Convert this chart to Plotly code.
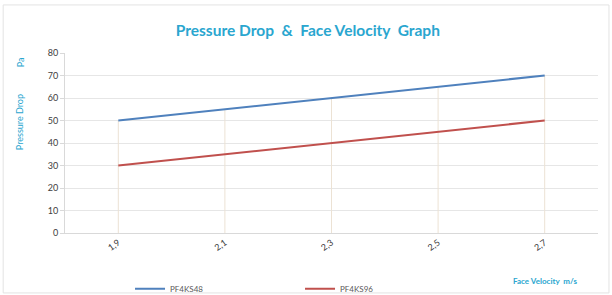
import plotly.graph_objects as go

categories = ["1,9", "2,1", "2,3", "2,5", "2,7"]
pf4ks48 = [50, 55, 60, 65, 70]
pf4ks96 = [30, 35, 40, 45, 50]
y_ticks = [0, 10, 20, 30, 40, 50, 60, 70, 80]

FONT = "Lato, 'Liberation Sans', sans-serif"
CYAN = "#2aa6cf"

fig = go.Figure()
fig.add_trace(go.Scatter(
    x=categories, y=pf4ks48, mode="lines", name="PF4KS48",
    line=dict(color="#4f81bd", width=2),
    error_y=dict(type="data", symmetric=False, array=[0]*len(pf4ks48),
                 arrayminus=pf4ks48, color="#ece2d4", thickness=1, width=0),
))
fig.add_trace(go.Scatter(
    x=categories, y=pf4ks96, mode="lines", name="PF4KS96",
    line=dict(color="#c0504d", width=2),
))

fig.update_layout(
    width=612, height=295,
    margin=dict(l=65, r=14, t=53, b=62, autoexpand=False),
    paper_bgcolor="white", plot_bgcolor="white",
    font=dict(family=FONT, size=9, color="#595959"),
    title=dict(text="<b>Pressure Drop  &  Face Velocity  Graph</b>",
               x=0.503, xanchor="center", y=1 - 31/295, yanchor="middle",
               yref="container", xref="container",
               font=dict(family=FONT, size=15.5, color=CYAN)),
    showlegend=True,
    legend=dict(orientation="h", x=0.122, y=-0.31, xanchor="left", yanchor="middle",
                entrywidth=125, entrywidthmode="pixels",
                font=dict(family=FONT, size=8, color="#595959"),
                itemwidth=30, bgcolor="rgba(0,0,0,0)"),
    xaxis=dict(type="category", showgrid=False, showline=True, linecolor="#d9d9d9",
               linewidth=1, ticks="", tickangle=-35, range=[-0.5, 4.5],
               tickfont=dict(size=9, color="#404040"), zeroline=False, automargin=False),
    yaxis=dict(range=[0, 80], tickvals=y_ticks, showgrid=True, gridcolor="#e6e6e6",
               gridwidth=1, showline=True, linecolor="#d9d9d9", ticks="outside",
               ticklen=4, tickcolor="#d9d9d9", zeroline=False, automargin=False,
               tickfont=dict(size=9, color="#404040")),
    shapes=[dict(type="rect", xref="paper", yref="paper", x0=-0.116, x1=1.0206,
                 y0=-0.333, y1=1.267, line=dict(color="#e3e3e3", width=1))],
    annotations=[
        dict(text="Pressure Drop", xref="paper", yref="paper", x=-0.084, y=0.617,
             textangle=-90, showarrow=False, xanchor="center", yanchor="middle",
             font=dict(family=FONT, size=9, color=CYAN)),
        dict(text="Pa", xref="paper", yref="paper", x=-0.084, y=0.95,
             textangle=-90, showarrow=False, xanchor="center", yanchor="middle",
             font=dict(family=FONT, size=9, color=CYAN)),
        dict(text="<b>Face Velocity  m/s</b>", xref="paper", yref="paper", x=0.964, y=-0.267,
             showarrow=False, xanchor="right", yanchor="middle",
             font=dict(family=FONT, size=8, color=CYAN)),
    ],
)

fig.write_html("out.html", config={"displayModeBar": False},
               post_script="document.body.style.margin='0';")
